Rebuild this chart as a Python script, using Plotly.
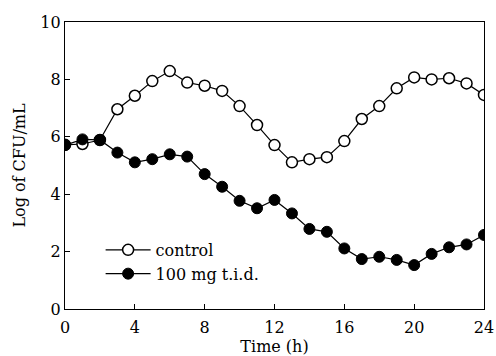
import plotly.graph_objects as go

time_h = list(range(0, 25))
control = [5.72, 5.75, 5.89, 6.96, 7.43, 7.94, 8.29, 7.89, 7.78, 7.60, 7.07, 6.41, 5.71,
           5.11, 5.22, 5.29, 5.85, 6.62, 7.07, 7.69, 8.07, 8.00, 8.04, 7.86, 7.46]
treated = [5.71, 5.91, 5.89, 5.45, 5.11, 5.22, 5.39, 5.31, 4.70, 4.26, 3.77, 3.51, 3.80,
           3.33, 2.79, 2.69, 2.11, 1.74, 1.82, 1.71, 1.53, 1.92, 2.15, 2.25, 2.58]
x_ticks = [0, 4, 8, 12, 16, 20, 24]
y_ticks = [0, 2, 4, 6, 8, 10]

font_family = "DejaVu Serif"

fig = go.Figure()
fig.add_trace(go.Scatter(
    x=time_h, y=control, mode="lines+markers", name="control",
    line=dict(color="black", width=1.2),
    marker=dict(symbol="circle", size=11, color="white", line=dict(color="black", width=1.5)),
))
fig.add_trace(go.Scatter(
    x=time_h, y=treated, mode="lines+markers", name="100 mg t.i.d.",
    line=dict(color="black", width=1.2),
    marker=dict(symbol="circle", size=11, color="black", line=dict(color="black", width=1)),
))

fig.update_layout(
    width=496, height=356,
    margin=dict(l=65, r=12, t=22, b=47, autoexpand=False),
    paper_bgcolor="white", plot_bgcolor="white",
    font=dict(family=font_family, size=16, color="black"),
    showlegend=True,
    legend=dict(x=0.085, y=0.265, xanchor="left", yanchor="top",
                bgcolor="rgba(0,0,0,0)", font=dict(size=16, family=font_family),
                tracegroupgap=0, itemwidth=45),
)
fig.update_xaxes(
    range=[0, 24], tickvals=x_ticks, ticktext=[str(v) for v in x_ticks],
    ticks="inside", ticklen=5, tickcolor="black", showline=True, linecolor="black",
    linewidth=1.2, mirror=True, showgrid=False, zeroline=False,
    ticklabelstandoff=4,
    title=dict(text="Time (h)", standoff=14, font=dict(size=16)),
)
fig.update_yaxes(
    range=[0, 10], tickvals=y_ticks, ticktext=[str(v) for v in y_ticks],
    ticks="inside", ticklen=5, tickcolor="black", showline=True, linecolor="black",
    linewidth=1.2, mirror=True, showgrid=False, zeroline=False,
    title=dict(text="Log of CFU/mL", standoff=10, font=dict(size=16)),
)

fig.write_html("out.html")
